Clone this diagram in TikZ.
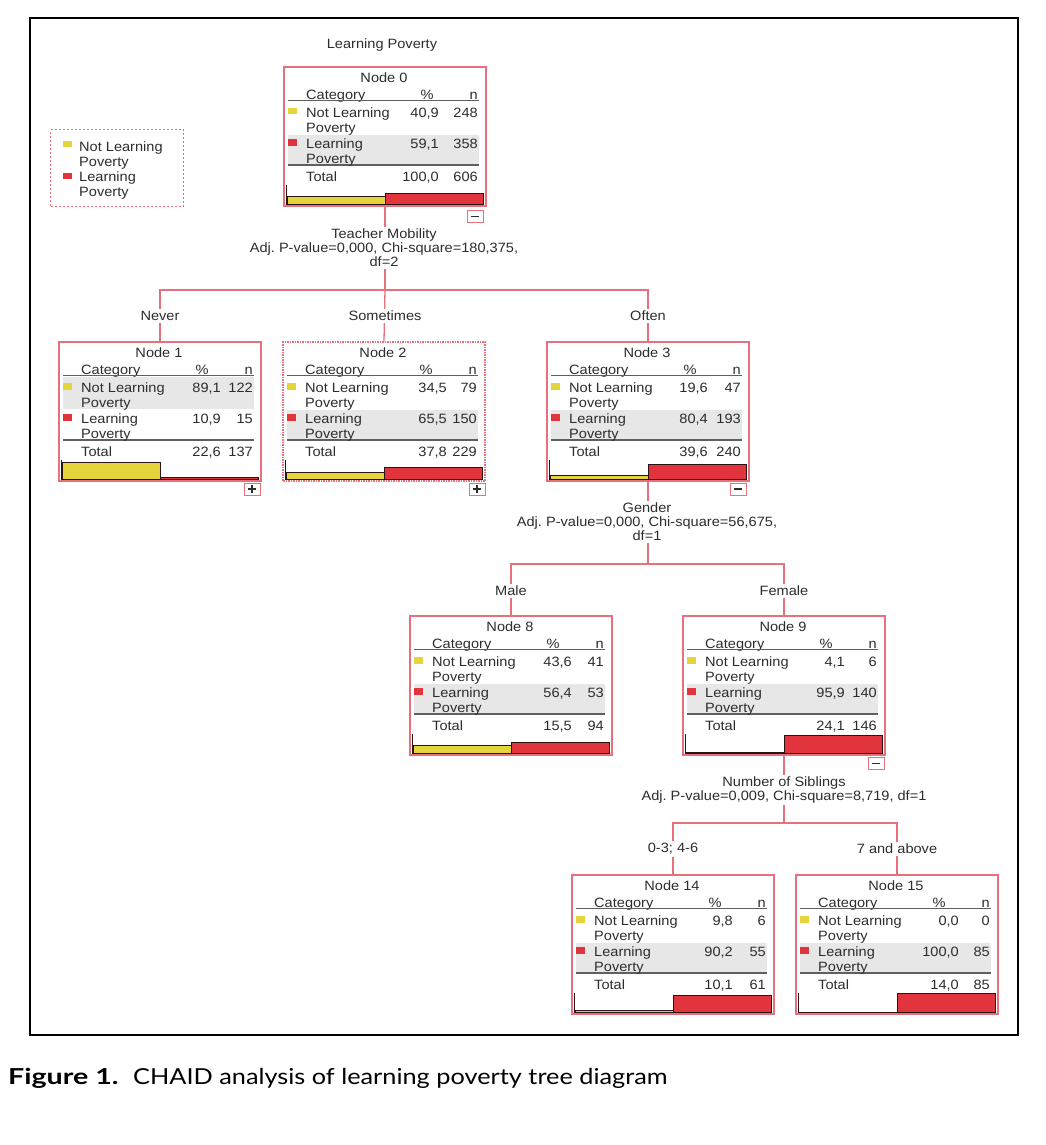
\documentclass[tikz,border=0pt]{standalone}
\usepackage{fontspec}
\setmainfont{Liberation Sans}[FakeStretch=1.08]
\newfontfamily\capfont{Lato}[FakeStretch=1.15]
\newfontfamily\capfontb{Lato}[FakeStretch=1.3]
\definecolor{yelc}{RGB}{229,212,60}
\definecolor{redc}{RGB}{226,52,60}
\definecolor{pinkc}{RGB}{232,112,124}
\definecolor{bandc}{RGB}{231,231,231}
\definecolor{txtc}{RGB}{45,45,45}
\definecolor{rulec}{RGB}{95,95,95}
\definecolor{bard}{RGB}{40,20,20}
\newcommand\cbox[6][]{%
  \pgfmathsetmacro\cxL{#3}\pgfmathsetmacro\cxT{#4}%
  \ifnum#6=1 \fill[bandc] (\cxL+4,\cxT+35) rectangle (\cxL+195,\cxT+67);%
  \else \fill[bandc] (\cxL+4,\cxT+68) rectangle (\cxL+195,\cxT+97);\fi
  \node[cbx,#1] (#2) at (\cxL+101,\cxT+69.5) {};
  \node[txt, anchor=mid] (#2t) at (\cxL+100,\cxT+10) {#5};
  \node[txt, anchor=mid west] (#2h1) at (\cxL+22,\cxT+27) {Category};
  \node[txt, anchor=mid] (#2h2) at (\cxL+143,\cxT+27) {\%};
  \node[txt, anchor=mid east] (#2h3) at (\cxL+194,\cxT+27) {n};
  \draw[rulel] (\cxL+4,\cxT+33.5) -- (\cxL+195,\cxT+33.5);
  \draw[rulel] (\cxL+4,\cxT+98) -- (\cxL+195,\cxT+98);
  \fill[yelc] (\cxL+4,\cxT+41) rectangle (\cxL+13,\cxT+47.5);
  \fill[redc] (\cxL+4,\cxT+72) rectangle (\cxL+13,\cxT+78.5);
  \node[txt, anchor=mid west] (#2a1) at (\cxL+22,\cxT+45) {Not Learning};
  \node[txt, anchor=mid west] (#2a2) at (\cxL+22,\cxT+60) {Poverty};
  \node[txt, anchor=mid west] (#2b1) at (\cxL+22,\cxT+76) {Learning};
  \node[txt, anchor=mid west] (#2b2) at (\cxL+22,\cxT+91) {Poverty};
  \node[txt, anchor=mid west] (#2c) at (\cxL+22,\cxT+109) {Total};
}
\newcommand\cvals[8]{%
  \node[txt, anchor=mid east] (#1p1) at (\cxL+#8,\cxT+45) {#2};
  \node[txt, anchor=mid east] (#1n1) at (\cxL+194,\cxT+45) {#3};
  \node[txt, anchor=mid east] (#1p2) at (\cxL+#8,\cxT+76) {#4};
  \node[txt, anchor=mid east] (#1n2) at (\cxL+194,\cxT+76) {#5};
  \node[txt, anchor=mid east] (#1pt) at (\cxL+#8,\cxT+109) {#6};
  \node[txt, anchor=mid east] (#1nt) at (\cxL+194,\cxT+109) {#7};
}
\newcommand\cbars[2]{%
  \filldraw[fill=yelc, draw=bard, line width=1pt] (\cxL+3,\cxT+137.5) rectangle (\cxL+101,\cxT+137.5-0.19*#1);
  \filldraw[fill=redc, draw=bard, line width=1pt] (\cxL+101,\cxT+137.5) rectangle (\cxL+199,\cxT+137.5-0.19*#2);
  \draw[bard, line width=1.5pt] (\cxL+2.5,\cxT+118) -- (\cxL+2.5,\cxT+137.5) -- (\cxL+199.5,\cxT+137.5);
}
\begin{document}
\frenchspacing
\begin{tikzpicture}[x=1pt,y=-1pt,
  btxt/.style={inner sep=0pt, text=txtc, font=\fontsize{13.5}{15}\selectfont},
  txt/.style={btxt, yshift=-2.5pt},
  cbx/.style={draw=pinkc, line width=1.1pt, minimum width=202pt, minimum height=139pt, inner sep=0pt},
  rulel/.style={draw=rulec, line width=1.1pt},
  conn/.style={draw=pinkc, line width=1.3pt},
  lbl/.style={btxt, fill=white, inner sep=2pt, align=center, font=\fontsize{13.5}{14}\selectfont},
  pm/.style={draw=pinkc, line width=1pt, minimum width=16pt, minimum height=12pt, inner sep=0pt},
  minus/.style={pm, path picture={\draw[txtc, line width=1.2pt] ([xshift=-4pt]path picture bounding box.center) -- ([xshift=4pt]path picture bounding box.center);}},
  plus/.style={pm, path picture={\draw[txtc, line width=1.2pt] ([xshift=-4pt]path picture bounding box.center) -- ([xshift=4pt]path picture bounding box.center) ([yshift=-4pt]path picture bounding box.center) -- ([yshift=4pt]path picture bounding box.center);}}]
\useasboundingbox (0,0) rectangle (1045,1145);
\fill[white] (0,0) rectangle (1045,1145);
\draw[line width=1.3pt] (30,18) rectangle (1018,1035);

% title
\node[txt, anchor=mid] (ttl) at (382,43) {Learning Poverty};

% legend
\node[draw=pinkc, line width=1pt, dash pattern=on 2pt off 2pt, minimum width=133pt, minimum height=76pt, inner sep=0pt] (leg) at (117,168) {};
\fill[yelc] (leg.north west) ++(13,11) rectangle ++(9,6.5);
\fill[redc] (leg.north west) ++(13,43) rectangle ++(9,6.5);
\node[txt, anchor=mid west] (lg1) at (79,146) {Not Learning};
\node[txt, anchor=mid west] (lg2) at (79,161) {Poverty};
\node[txt, anchor=mid west] (lg3) at (79,176) {Learning};
\node[txt, anchor=mid west] (lg4) at (79,191) {Poverty};

% nodes
\cbox{n0}{284}{67}{Node 0}{2}
\cvals{n0}{40,9}{248}{59,1}{358}{100,0}{606}{155}
\cbars{40.9}{59.1}
\cbox{n1}{59}{342}{Node 1}{1}
\cvals{n1}{89,1}{122}{10,9}{15}{22,6}{137}{162}
\cbars{89.1}{10.9}
\cbox[dash pattern=on 1.5pt off 1pt, line width=1.8pt]{n2}{283}{342}{Node 2}{2}
\cvals{n2}{34,5}{79}{65,5}{150}{37,8}{229}{164}
\cbars{34.5}{65.5}
\cbox{n3}{547}{342}{Node 3}{2}
\cvals{n3}{19,6}{47}{80,4}{193}{39,6}{240}{161}
\cbars{19.6}{80.4}
\cbox{n8}{410}{616}{Node 8}{2}
\cvals{n8}{43,6}{41}{56,4}{53}{15,5}{94}{162}
\cbars{43.6}{56.4}
\cbox{n9}{683}{616}{Node 9}{2}
\cvals{n9}{4,1}{6}{95,9}{140}{24,1}{146}{162}
\cbars{4.1}{95.9}
\cbox{n14}{572}{875}{Node 14}{2}
\cvals{n14}{9,8}{6}{90,2}{55}{10,1}{61}{161}
\cbars{9.8}{90.2}
\cbox{n15}{796}{875}{Node 15}{2}
\cvals{n15}{0,0}{0}{100,0}{85}{14,0}{85}{163}
\cbars{0}{100}

% expand/collapse boxes
\node[minus] (n0pm) at (475,216.5) {};
\node[plus] (n1pm) at (252,489) {};
\node[plus] (n2pm) at (477,489) {};
\node[minus] (n3pm) at (738,489) {};
\node[minus] (n9pm) at (876,763.5) {};

% connectors
\coordinate (j0) at (385,290);
\draw[conn] (n0.south) -- (j0);
\draw[conn] (j0) -| (n1.north);
\draw[conn] (j0) -- (n2.north);
\draw[conn] (j0) -| (n3.north);
\coordinate (j3) at (648,564);
\draw[conn] (n3.south) -- (j3);
\draw[conn] (j3) -| (n8.north);
\draw[conn] (j3) -| (n9.north);
\coordinate (j9) at (784,823);
\draw[conn] (n9.south) -- (j9);
\draw[conn] (j9) -| (n14.north);
\draw[conn] (j9) -| (n15.north);

% split labels
\node[lbl] (s0) at (384,248) {Teacher Mobility\\Adj. P-value=0,000, Chi-square=180,375,\\df=2};
\node[lbl] (e1) at (160,316) {Never};
\node[lbl] (e2) at (385,316) {Sometimes};
\node[lbl] (e3) at (648,316) {Often};
\node[lbl] (s3) at (647,522) {Gender\\Adj. P-value=0,000, Chi-square=56,675,\\df=1};
\node[lbl] (e8) at (511,591) {Male};
\node[lbl] (e9) at (784,591) {Female};
\node[lbl] (s9) at (784,790) {Number of Siblings\\Adj. P-value=0,009, Chi-square=8,719, df=1};
\node[lbl] (e14) at (673,849) {0-3; 4-6};
\node[lbl] (e15) at (897,849) {7 and above};

% caption
\node[anchor=mid west, inner sep=0pt, font=\capfontb\bfseries\fontsize{22}{26}\selectfont] (capa) at (8,1082) {Figure 1.};
\node[anchor=mid west, inner sep=0pt, font=\capfont\fontsize{22}{26}\selectfont] (capb) at (133,1082) {CHAID analysis of learning poverty tree diagram};
\end{tikzpicture}
\end{document}
